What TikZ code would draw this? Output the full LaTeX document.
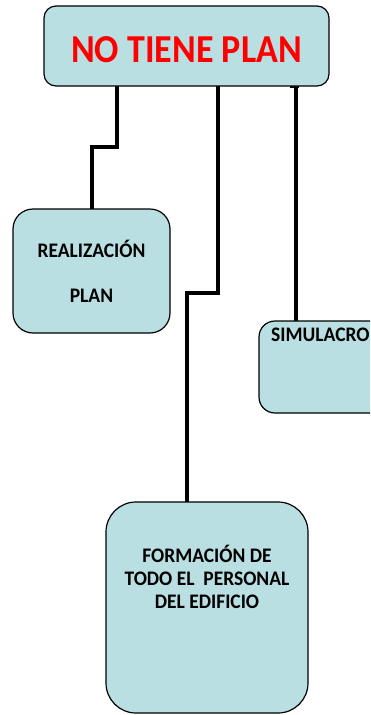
\documentclass[tikz,border=0pt]{standalone}
\usepackage{fontspec}
\setmainfont{Carlito}
\definecolor{boxfill}{HTML}{B9DFE2}
\definecolor{titlered}{HTML}{FF0000}
\begin{document}
\begin{tikzpicture}[x=1pt,y=-1pt,
  box/.style={draw=black, line width=1.2pt, fill=boxfill},
  conn/.style={draw=black, line width=3.5pt, line cap=rect},
  lbl/.style={anchor=base, inner sep=0pt, font=\bfseries\fontsize{19.5}{22}\selectfont}]
\useasboundingbox (0,0) rectangle (370,715);
\clip (0,0) rectangle (370,715);
% connectors (drawn first, behind boxes)
\coordinate (c1a) at (117,86);
\coordinate (c1b) at (117,147);
\coordinate (c1c) at (92,147);
\coordinate (c1d) at (92,209);
\draw[conn] (c1a) -- (c1b) -- (c1c) -- (c1d);
\coordinate (c2a) at (218,86);
\coordinate (c2b) at (218,293);
\coordinate (c2c) at (187,293);
\coordinate (c2d) at (187,502);
\draw[conn] (c2a) -- (c2b) -- (c2c) -- (c2d);
\coordinate (c3a) at (296,84);
\coordinate (c3b) at (296,322);
\draw[conn] (c3a) -- (c3b);
\fill (290,82) rectangle (299,88);
% boxes
\draw[box, rounded corners=12pt] (44,6) rectangle (329,86);
\node[anchor=base, inner sep=0pt, text=titlered, font=\bfseries\fontsize{36}{40}\selectfont] (title) at (186.5,62) {\scalebox{1}[1.1]{NO TIENE PLAN}};
\draw[box, rounded corners=20pt] (13,209) rectangle (170,333);
\node[lbl] (real1) at (91.5,257) {\scalebox{1}[1.06]{REALIZACIÓN}};
\node[lbl] (real2) at (91.5,302) {\scalebox{1}[1.06]{PLAN}};
\draw[box, rounded corners=16pt] (259,321) rectangle (420,413);
\node[lbl, anchor=base west] (sim) at (271,341) {\scalebox{1}[1.06]{SIMULACRO}};
\draw[box, rounded corners=30pt] (106,502) rectangle (308,713);
\node[lbl] (f1) at (207,562) {\scalebox{1}[1.06]{FORMACIÓN DE}};
\node[lbl] (f2) at (207,585) {\scalebox{1}[1.06]{TODO EL\ \ PERSONAL}};
\node[lbl] (f3) at (207,608) {\scalebox{1}[1.06]{DEL EDIFICIO}};
\end{tikzpicture}
\end{document}
